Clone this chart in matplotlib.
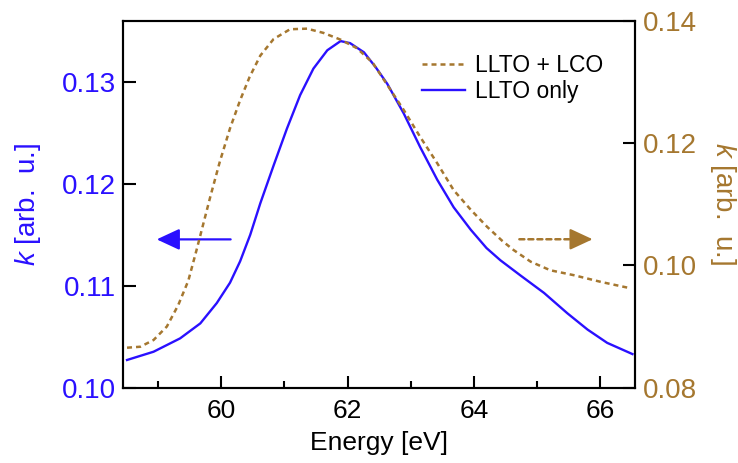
import matplotlib
matplotlib.use("Agg")
import matplotlib.pyplot as plt

plt.rcParams['font.family'] = ['Liberation Sans', 'DejaVu Sans']
plt.rcParams['mathtext.fontset'] = 'custom'
plt.rcParams['mathtext.it'] = 'Liberation Sans:italic'
plt.rcParams['mathtext.rm'] = 'Liberation Sans'

BLUE = '#2a10ff'
BROWN = '#a5772f'

energy_llto = [58.51, 58.93, 59.35, 59.67, 59.93, 60.14, 60.30, 60.46, 60.62, 60.83,
               61.04, 61.25, 61.46, 61.68, 61.89, 62.04, 62.26, 62.45, 62.63, 62.89,
               63.15, 63.42, 63.68, 63.95, 64.2, 64.42, 64.74, 65.11, 65.48, 65.80,
               66.11, 66.51]
k_llto = [0.10272, 0.10353, 0.10484, 0.10631, 0.10830, 0.11030, 0.1124, 0.1150, 0.1181, 0.1218,
          0.1254, 0.1287, 0.1313, 0.1331, 0.1340, 0.1338, 0.1329, 0.1314, 0.1298, 0.1269,
          0.1236, 0.1204, 0.1177, 0.1155, 0.1137, 0.1125, 0.1110, 0.1093, 0.1073, 0.1057,
          0.1044, 0.1033]

energy_lco = [58.51, 58.72, 58.93, 59.14, 59.32, 59.48, 59.61, 59.72, 59.83, 59.98,
              60.14, 60.30, 60.45, 60.62, 60.83, 61.09, 61.36, 61.62, 61.89, 62.15,
              62.40, 62.89, 63.15, 63.42, 63.68, 63.95, 64.21, 64.45, 64.63, 64.90,
              65.21, 65.58, 66.01, 66.46]
k_lco = [0.08654, 0.0867, 0.0878, 0.0900, 0.0935, 0.0975, 0.1025, 0.1069, 0.1113, 0.1170,
         0.1224, 0.1270, 0.1308, 0.1343, 0.1370, 0.1386, 0.1387, 0.1380, 0.1369, 0.1355,
         0.1331, 0.1254, 0.1210, 0.1167, 0.1123, 0.1091, 0.1063, 0.1040, 0.1025, 0.1006,
         0.0992, 0.0984, 0.0973, 0.0963]

fig = plt.figure(figsize=(7.38, 4.63), dpi=100)
ax1 = fig.add_axes([0.167, 0.1626, 0.8604 - 0.167, 0.9553 - 0.1626])
ax2 = ax1.twinx()

l2, = ax2.plot(energy_lco, k_lco, color=BROWN, lw=1.8, linestyle=(0, (2.0, 1.6)), label='LLTO + LCO')
l1, = ax1.plot(energy_llto, k_llto, color=BLUE, lw=1.7, label='LLTO only')

ax1.set_xlim(58.45, 66.55)
ax1.set_ylim(0.10, 0.136)
ax2.set_ylim(0.08, 0.14)

ax1.set_xticks([60, 62, 64, 66])
ax1.set_xticks([59, 61, 63, 65], minor=True)
ax1.set_yticks([0.10, 0.11, 0.12, 0.13])
ax1.set_yticklabels(['0.10', '0.11', '0.12', '0.13'])
ax2.set_yticks([0.08, 0.10, 0.12, 0.14])
ax2.set_yticklabels(['0.08', '0.10', '0.12', '0.14'])

for ax in (ax1, ax2):
    for s in ax.spines.values():
        s.set_linewidth(1.5)

ax1.tick_params(axis='x', which='major', direction='in', length=9, width=1.5, labelsize=19, pad=8)
ax1.tick_params(axis='x', which='minor', direction='in', length=5, width=1.5)
ax1.tick_params(axis='y', which='major', direction='in', length=9, width=1.5, labelsize=20,
                labelcolor=BLUE, pad=5)
ax2.tick_params(axis='y', which='major', direction='in', length=9, width=1.5, labelsize=20,
                labelcolor=BROWN, pad=6)

ax1.set_xlabel('Energy [eV]', fontsize=19, labelpad=6)
ax1.set_ylabel('$k$ [arb.  u.]', fontsize=20, color=BLUE, labelpad=14)
ax2.set_ylabel('$k$ [arb.  u.]', fontsize=20, color=BROWN, rotation=270, labelpad=29)

arrow_y_left = 0.11455
arrow_y_right = 0.10427
ax1.annotate('', xy=(58.98, arrow_y_left), xytext=(60.15, arrow_y_left),
             arrowprops=dict(arrowstyle='-|>,head_length=1.4,head_width=0.65', color=BLUE, lw=1.6,
                             shrinkA=0, shrinkB=0))
ax2.annotate('', xy=(65.62, arrow_y_right), xytext=(64.72, arrow_y_right),
             arrowprops=dict(arrowstyle='-', color=BROWN, lw=1.8,
                             linestyle=(0, (2.0, 1.6)), shrinkA=0, shrinkB=0))
ax2.annotate('', xy=(65.88, arrow_y_right), xytext=(65.55, arrow_y_right),
             arrowprops=dict(arrowstyle='-|>,head_length=1.4,head_width=0.65', color=BROWN, lw=1.6,
                             shrinkA=0, shrinkB=0))

leg = ax2.legend(handles=[l2, l1], loc='upper right', bbox_to_anchor=(0.955, 0.935),
                 frameon=False, fontsize=16.5, handlelength=1.9, handletextpad=0.4,
                 labelspacing=0.15, borderaxespad=0)

fig.savefig('out.png', dpi=100)
